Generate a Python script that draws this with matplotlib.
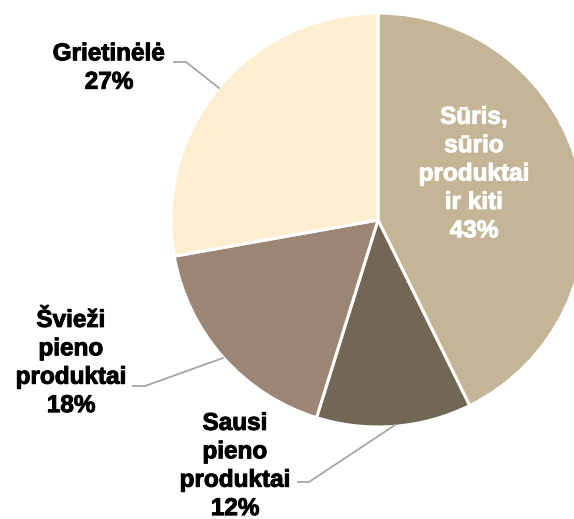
import matplotlib
matplotlib.use("Agg")
import matplotlib.pyplot as plt
import matplotlib.patheffects as pe

# ------------------------------------------------------------
# Data
# ------------------------------------------------------------
labels = ["Sūris,\nsūrio\nproduktai\nir kiti", "Sausi\npieno\nproduktai",
          "Švieži\npieno\nproduktai", "Grietinėlė"]
shares = [42.7, 12.1, 17.4, 27.8]          # slice sizes as drawn
pct_text = ["43%", "12%", "18%", "27%"]     # labels as printed
colors = ["#C4B597", "#726655", "#9B8575", "#FFEFD0"]

# ------------------------------------------------------------
# Figure (axes in pixel units, y up)
# ------------------------------------------------------------
W, H = 574, 519
fig = plt.figure(figsize=(W / 100, H / 100), dpi=100)
ax = fig.add_axes([0, 0, 1, 1])

cx, cy, r = 378, H - 220, 207

ax.pie(shares, colors=colors, startangle=90, counterclock=False,
       center=(cx, cy), radius=r, frame=True,
       wedgeprops=dict(edgecolor="white", linewidth=2.2))
ax.set_xlim(0, W)
ax.set_ylim(0, H)
ax.set_aspect("equal")
ax.axis("off")

font = dict(family="Liberation Sans", weight="bold", fontsize=17.5,
            ha="center", va="center", linespacing=1.3)

# label text positions (pixel, from top)
txt_pos = [(474, 174), (235, 466), (71, 363), (109, 68)]
txt_col = ["white", "black", "black", "black"]
for lab, p, (x, y), c in zip(labels, pct_text, txt_pos, txt_col):
    ax.text(x, H - y, f"{lab}\n{p}", color=c,
            path_effects=[pe.withStroke(linewidth=0.7, foreground=c)], **font)

# leader lines
leaders = [
    [(174, 62), (186, 62), (219, 88)],
    [(133, 386), (145, 386), (223, 358)],
    [(298, 482), (309, 482), (395, 425)],
]
for pts in leaders:
    xs = [p[0] for p in pts]
    ys = [H - p[1] for p in pts]
    ax.plot(xs, ys, color="#A6A6A6", linewidth=1.3)

fig.savefig("out.png", dpi=100)
